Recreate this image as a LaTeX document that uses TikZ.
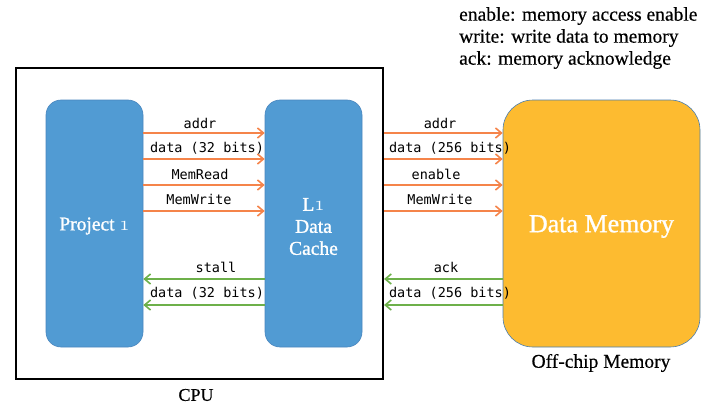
\documentclass[tikz,border=0pt]{standalone}
\usepackage{fontspec}
\setmainfont{Liberation Serif}[FakeBold=0.4]
\newfontfamily\boxserif{Liberation Serif}[FakeBold=1.2]
\setmonofont{DejaVu Sans Mono}
\usetikzlibrary{arrows.meta}
\newcommand{\osone}{{\usefont{OML}{cmm}{m}{it}1}}
\definecolor{boxblue}{HTML}{519BD3}
\definecolor{boxedge}{HTML}{4A86BE}
\definecolor{memyel}{HTML}{FDBB30}
\definecolor{memedge}{HTML}{4A7EB0}
\definecolor{arrorange}{HTML}{F5844A}
\definecolor{arrgreen}{HTML}{6DB04A}
\tikzset{
  blk/.style={draw=boxedge, fill=boxblue, line width=0.6pt, rounded corners=15pt, minimum width=97pt, minimum height=247pt, inner sep=0pt, text=white, font=\boxserif\fontsize{19.5}{22}\selectfont, align=center},
  memblk/.style={draw=memedge, fill=memyel, line width=0.6pt, rounded corners=30pt, minimum width=197pt, minimum height=247pt, inner sep=0pt, text=white, font=\boxserif\fontsize{26}{30}\selectfont},
  boxtext/.style={draw=none, fill=none, rounded corners=0pt, minimum width=0pt, minimum height=0pt},
  sig/.style={line width=2pt, -{Straight Barb[length=6pt,width=10pt,line width=1.6pt]}},
  fwd/.style={sig, arrorange},
  bwd/.style={sig, arrgreen},
  lbl/.style={font=\ttfamily\fontsize{13.5}{15}\selectfont, inner sep=0pt, text=black},
  captxt/.style={font=\fontsize{19.5}{22}\selectfont, inner sep=0pt},
}
\begin{document}
\begin{tikzpicture}[x=1pt,y=-1pt]
\useasboundingbox (0,0) rectangle (714,404);
% CPU frame
\node[draw, line width=2pt, minimum width=367pt, minimum height=311pt, inner sep=0pt] (cpu) at (199.5,223.5) {};
\node[captxt, font=\fontsize{18}{22}\selectfont] (cpulbl) at (196,395) {CPU};
% blocks
\node[blk] (proj) at (94.5,223.5) {};
\node[blk] (cache) at (313.5,223.5) {};
\node[memblk] (mem) at (601.5,223.5) {};
\node[blk, boxtext] (projtxt) at (94.5,226) {Project \osone};
\node[blk, boxtext] (cachetxt) at (313.5,226.5) {L\osone\\Data\\Cache};
\node[memblk, boxtext] (memtxt) at (601.5,226.5) {Data Memory};
\node[captxt] (offchip) at (601,363) {Off-chip Memory};
% legend
\node[captxt, anchor=west] (leg1) at (459,16) {enable: memory access enable};
\node[captxt, anchor=west] (leg2) at (459,38) {write: write data to memory};
\node[captxt, anchor=west] (leg3) at (459,60) {ack: memory acknowledge};
% left side arrows
\draw[fwd] (proj.east |- 0,133) -- (cache.west |- 0,133);
\draw[fwd] (proj.east |- 0,159) -- (cache.west |- 0,159);
\draw[fwd] (proj.east |- 0,185) -- (cache.west |- 0,185);
\draw[fwd] (proj.east |- 0,211) -- (cache.west |- 0,211);
\draw[bwd] (cache.west |- 0,279) -- (proj.east |- 0,279);
\draw[bwd] (cache.west |- 0,305) -- (proj.east |- 0,305);
\node[lbl] (l1) at (200,123) {addr};
\node[lbl] (l2) at (207,148) {data (32 bits)};
\node[lbl] (l3) at (200,174) {MemRead};
\node[lbl] (l4) at (199,199) {MemWrite};
\node[lbl] (l5) at (216,267) {stall};
\node[lbl] (l6) at (207,293) {data (32 bits)};
% right side arrows
\draw[fwd] (cpu.east |- 0,133) -- (mem.west |- 0,133);
\draw[fwd] (cpu.east |- 0,159) -- (mem.west |- 0,159);
\draw[fwd] (cpu.east |- 0,185) -- (mem.west |- 0,185);
\draw[fwd] (cpu.east |- 0,211) -- (mem.west |- 0,211);
\draw[bwd] (mem.west |- 0,279) -- (cpu.east |- 0,279);
\draw[bwd] (mem.west |- 0,305) -- (cpu.east |- 0,305);
\node[lbl] (r1) at (440,123) {addr};
\node[lbl] (r2) at (450,148) {data (256 bits)};
\node[lbl] (r3) at (436,174) {enable};
\node[lbl] (r4) at (440,199) {MemWrite};
\node[lbl] (r5) at (446,267) {ack};
\node[lbl] (r6) at (450,293) {data (256 bits)};
\end{tikzpicture}
\end{document}
